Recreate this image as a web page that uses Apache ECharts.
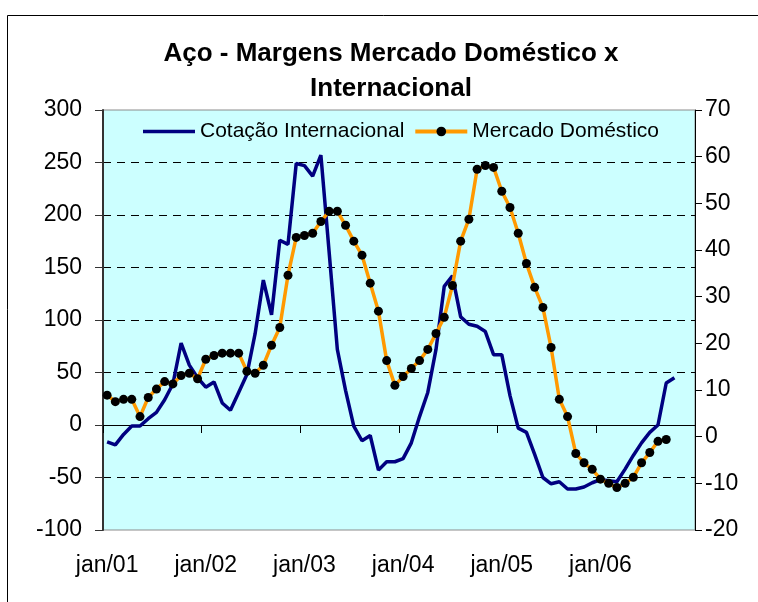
<!DOCTYPE html>
<html>
<head>
<meta charset="utf-8">
<script src="https://cdn.jsdelivr.net/npm/echarts@6/dist/echarts.min.js"></script>
<style>
  html, body { margin: 0; padding: 0; background: #fff; }
  #chart { width: 758px; height: 602px; }
</style>
</head>
<body>
<div id="chart"></div>
<script>
// meses jan/01 .. dez/06
var months = ['jan', 'fev', 'mar', 'abr', 'mai', 'jun', 'jul', 'ago', 'set', 'out', 'nov', 'dez'];
var years = ['01', '02', '03', '04', '05', '06'];

// Cotação Internacional (eixo esquerdo)
var cotacaoInternacional = [
  -16, -19, -9, -1, -1, 6, 12, 24, 39, 78, 57, 45,
  36, 41, 21, 14, 31, 48, 87, 138, 105, 176, 172, 249,
  247, 237, 257, 165, 72, 33, -1, -15, -10, -43, -35, -35,
  -32, -17, 8, 31, 72, 132, 142, 103, 96, 94, 89, 67,
  67, 28, -3, -7, -28, -50, -56, -54, -61, -61, -59, -55,
  -52, -53, -54, -42, -29, -17, -7, 0, 40, 45
];

// Mercado Doméstico (eixo direito)
var mercadoDomestico = [
  8.9, 7.5, 8.0, 8.0, 4.3, 8.4, 10.2, 11.8, 11.3, 13.1, 13.6, 12.4,
  16.6, 17.4, 17.9, 17.9, 17.9, 14.0, 13.6, 15.3, 19.6, 23.4, 34.6, 42.7,
  43.1, 43.6, 46.1, 48.3, 48.3, 45.3, 41.9, 38.9, 32.9, 26.9, 16.3, 11.0,
  12.9, 14.6, 16.3, 18.7, 22.1, 25.6, 32.4, 41.9, 46.6, 57.3, 58.1, 57.7,
  52.6, 49.1, 43.6, 37.1, 32.0, 27.7, 19.1, 8.0, 4.3, -3.6, -5.6, -7.0,
  -9.1, -10.0, -10.9, -10.0, -8.7, -5.6, -3.4, -1.0, -0.6
];

var categories = [];
years.forEach(function (y) {
  months.forEach(function (m) {
    categories.push(m + '/' + y);
  });
});

var font = "'Liberation Sans', Arial, sans-serif";
// linha simples para a legenda da cotação (cantos minúsculos só fixam a caixa)
var lineIcon = 'path://M0,0L0.01,0L0,0.01Z M0,4.2L52,4.2L52,7.8L0,7.8Z M52,12L51.99,12L52,11.99Z';

var myChart = echarts.init(document.getElementById('chart'), null, { renderer: 'canvas' });

myChart.setOption({
  animation: false,
  textStyle: { fontFamily: font },
  title: {
    text: 'Aço - Margens Mercado Doméstico x\nInternacional',
    left: 386,
    textAlign: 'center',
    top: 31,
    textStyle: {
      fontFamily: font,
      fontSize: 26,
      fontWeight: 'bold',
      color: '#000',
      lineHeight: 35
    }
  },
  graphic: [
    {
      type: 'rect',
      shape: { x: 7.5, y: 15.5, width: 800, height: 700 },
      style: { fill: 'none', stroke: '#000', lineWidth: 1 },
      silent: true,
      z: -10
    }
  ],
  legend: {
    left: 138,
    top: 116,
    itemWidth: 52,
    itemHeight: 12,
    itemGap: 9,
    textStyle: { fontFamily: font, fontSize: 21, color: '#000' },
    data: [
      { name: 'Cotação Internacional', icon: lineIcon },
      { name: 'Mercado Doméstico', lineStyle: { width: 4 } }
    ]
  },
  grid: {
    left: 103,
    right: 63,
    top: 110,
    bottom: 72,
    show: true,
    backgroundColor: '#CCFFFF',
    borderColor: '#8c8c8c',
    borderWidth: 1
  },
  xAxis: [
    {
      type: 'category',
      data: categories,
      boundaryGap: true,
      position: 'bottom',
      axisLine: { show: false, onZero: false },
      axisTick: { show: false },
      axisLabel: {
        interval: 11,
        margin: 24,
        fontFamily: font,
        fontSize: 23,
        color: '#000'
      },
      splitLine: { show: false }
    },
    {
      type: 'category',
      data: categories,
      boundaryGap: true,
      position: 'top',
      axisLine: {
        show: true,
        onZero: true,
        onZeroAxisIndex: 0,
        lineStyle: { color: '#000', width: 1 }
      },
      axisTick: {
        show: true,
        interval: 11,
        inside: true,
        length: 8,
        lineStyle: { color: '#000' }
      },
      axisLabel: { show: false },
      splitLine: { show: false }
    }
  ],
  yAxis: [
    {
      type: 'value',
      min: -100,
      max: 300,
      interval: 50,
      position: 'left',
      axisLine: { show: true, lineStyle: { color: '#333', width: 2 } },
      axisTick: { show: true, length: 8, lineStyle: { color: '#333' } },
      axisLabel: { fontFamily: font, fontSize: 23, color: '#000', margin: 21 },
      splitLine: {
        show: true,
        showMinLine: false,
        showMaxLine: false,
        lineStyle: { color: '#000', type: [8, 6], width: 1 }
      }
    },
    {
      type: 'value',
      min: -20,
      max: 70,
      interval: 10,
      position: 'right',
      axisLine: { show: true, lineStyle: { color: '#000', width: 1 } },
      axisTick: { show: true, length: 7, lineStyle: { color: '#000' } },
      axisLabel: { fontFamily: font, fontSize: 23, color: '#000', margin: 10 },
      splitLine: { show: false }
    }
  ],
  series: [
    {
      name: 'Cotação Internacional',
      type: 'line',
      xAxisIndex: 0,
      yAxisIndex: 0,
      symbol: 'none',
      lineStyle: { color: '#000080', width: 3.5 },
      itemStyle: { color: '#000080' },
      data: cotacaoInternacional
    },
    {
      name: 'Mercado Doméstico',
      type: 'line',
      xAxisIndex: 0,
      yAxisIndex: 1,
      symbol: 'circle',
      symbolSize: 9,
      showSymbol: true,
      showAllSymbol: true,
      lineStyle: { color: '#FF9900', width: 3.5 },
      itemStyle: { color: '#000', borderWidth: 0 },
      data: mercadoDomestico
    }
  ]
});
</script>
</body>
</html>
